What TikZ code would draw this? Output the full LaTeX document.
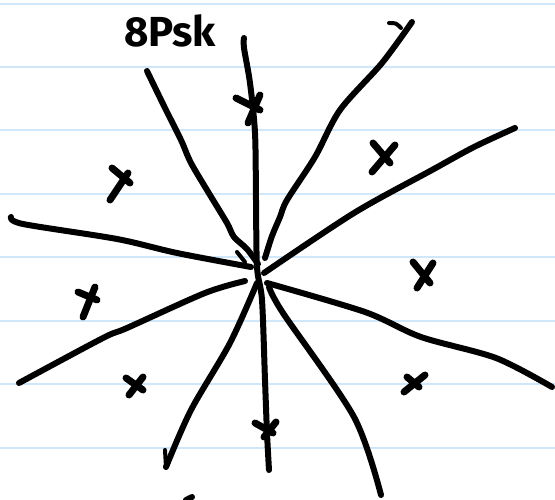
\documentclass[tikz,border=0pt]{standalone}
\usepackage{fontspec}
\setsansfont{Fira Sans}
\usetikzlibrary{calc}
\definecolor{cline}{HTML}{CFE7F8}
\definecolor{cink}{HTML}{000000}
\tikzset{
  every picture/.style={x=1pt, y=-1pt},
  ruled/.style={draw=cline, line width=2pt},
  spoke/.style={draw=cink, line width=6pt, line cap=round, line join=round},
  xstroke/.style={draw=cink, line width=7pt, line cap=round},
  scrawl/.style={font=\sffamily\bfseries\fontsize{42}{42}\selectfont, text=cink, inner sep=0pt},
}

\begin{document}
\begin{tikzpicture}
  \useasboundingbox (0,0) rectangle (555,500);
  \fill[white] (0,0) rectangle (555,500);
  % ruled paper
  \foreach \y in {4,67,130,194,257,321,384,448} {
    \draw[ruled] (0,\y) -- (555,\y);
  }
  \node[scrawl] (title) at (170,31) {8Psk};
  % spokes into the centre
  \draw[spoke] plot[smooth, tension=0.5] coordinates {(147,71) (165,108) (181,140) (191,163) (210,195) (227,223) (234,237) (247,249) (258,264)};
  \draw[spoke] plot[smooth, tension=0.5] coordinates {(244,38) (244,48) (250,83) (255,133) (256,200) (257,267) (262,300) (265,380) (267,433) (269,470)};
  \draw[spoke, line width=4pt] (389,23) .. controls (396,23) .. (401,28);
  \draw[spoke] plot[smooth, tension=0.5] coordinates {(412,22) (382,63) (340,110) (315,157) (287,200) (280,217) (272,236) (265,258)};
  \draw[spoke] plot[smooth, tension=0.5] coordinates {(515,128) (474,147) (432,170) (354,213) (264,273)};
  \draw[spoke] plot[smooth, tension=0.5] coordinates {(11,217) (23,224) (117,239) (177,253) (251,267)};
  \draw[spoke] plot[smooth, tension=0.5] coordinates {(245,281) (205,293) (127,328) (103,338) (19,383)};
  \draw[spoke, line width=4pt] (165,450) -- (166,467);
  \draw[spoke] plot[smooth, tension=0.5] coordinates {(166,467) (191,410) (230,343) (257,283)};
  \draw[spoke] plot[smooth, tension=0.5] coordinates {(269,287) (283,313) (354,417) (381,495)};
  \draw[spoke] plot[smooth, tension=0.5] coordinates {(267,283) (365,312) (421,337) (496,358) (552,387)};
  \draw[spoke, line width=4pt] (237,252) -- (245,262);
  % symbol points
  \foreach \ax/\ay/\bx/\by/\cx/\cy/\dx/\dy in {
      236/98/260/110/260/95/248/123,
      373/143/390/163/395/145/372/172,
      112/168/130/183/128/173/110/200,
      413/262/430/283/433/263/417/288,
      78/292/97/300/95/287/83/317,
      126/378/143/390/143/377/129/395,
      407/377/419/387/425/375/404/392,
      255/423/273/433/276/422/264/437} {
    \draw[xstroke] (\ax,\ay) -- (\bx,\by);
    \draw[xstroke] (\cx,\cy) -- (\dx,\dy);
  }
  \draw[spoke] (186,500) -- (192,497);
\end{tikzpicture}
\end{document}
